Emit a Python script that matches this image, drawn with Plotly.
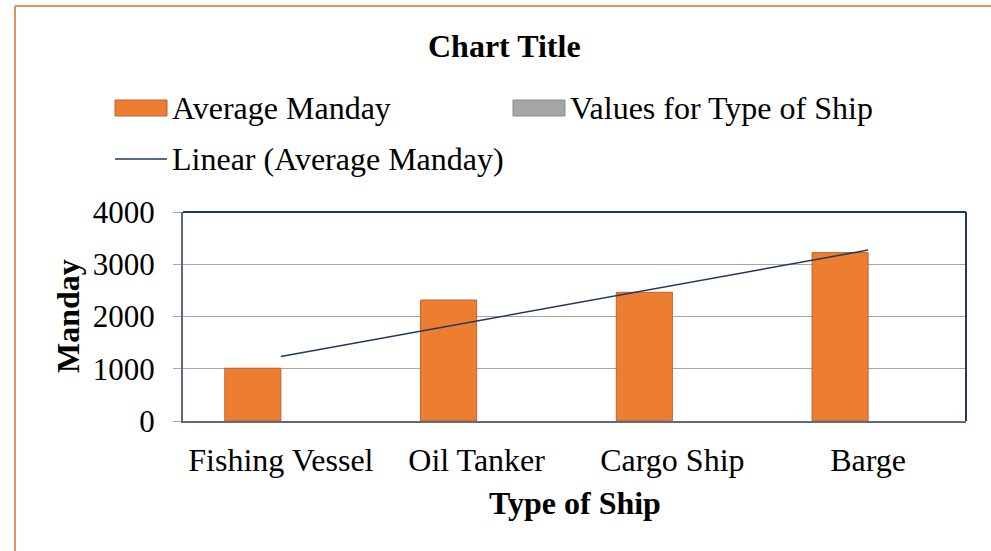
import numpy as np
import plotly.graph_objects as go

# Data
ship_types = ["Fishing Vessel", "Oil Tanker", "Cargo Ship", "Barge"]
average_manday = [1010, 2316, 2463, 3223]
values_for_type = [0, 0, 0, 0]
y_ticks = [0, 1000, 2000, 3000, 4000]

# Linear trend of the average manday (fit over category index 1..n)
idx = np.arange(1, len(ship_types) + 1)
slope, intercept = np.polyfit(idx, average_manday, 1)
trend = (slope * idx + intercept).tolist()

FONT = "Times New Roman, Liberation Serif, serif"
W, H = 991, 551
L, R, T, B = 183, 25, 212, 130
PW, PH = W - L - R, H - T - B


def px(x):
    return (x - L) / PW


def py(y):
    return (H - B - y) / PH


fig = go.Figure()
fig.add_trace(go.Bar(
    x=ship_types, y=average_manday, name="Average Manday",
    marker=dict(color="#ED7D31", line=dict(color="#C0652A", width=1)),
    showlegend=False,
))
fig.add_trace(go.Bar(
    x=ship_types, y=values_for_type, name="Values for Type of Ship",
    marker=dict(color="#A5A5A5", line=dict(color="#8C8C8C", width=0)),
    showlegend=False,
))
fig.add_trace(go.Scatter(
    x=ship_types, y=trend, mode="lines", name="Linear (Average Manday)",
    line=dict(color="#203864", width=1.5), showlegend=False,
))

shapes = [
    # plot frame (top and right)
    dict(type="line", xref="paper", yref="paper", x0=0, x1=1, y0=1, y1=1,
         line=dict(color="#1F3864", width=2)),
    dict(type="line", xref="paper", yref="paper", x0=1, x1=1, y0=0, y1=1,
         line=dict(color="#1F3864", width=2)),
    # outer chart border
    dict(type="line", xref="paper", yref="paper", x0=px(15), x1=px(W + 5),
         y0=py(6), y1=py(6), line=dict(color="#E0955F", width=2)),
    dict(type="line", xref="paper", yref="paper", x0=px(15), x1=px(15),
         y0=py(6), y1=py(H + 5), line=dict(color="#E0955F", width=2)),
    # legend swatches
    dict(type="rect", xref="paper", yref="paper", x0=px(115), x1=px(167),
         y0=py(116), y1=py(100), fillcolor="#ED7D31",
         line=dict(color="#C0652A", width=1)),
    dict(type="rect", xref="paper", yref="paper", x0=px(513), x1=px(565),
         y0=py(116), y1=py(100), fillcolor="#A5A5A5",
         line=dict(color="#8C8C8C", width=1)),
    dict(type="line", xref="paper", yref="paper", x0=px(115), x1=px(167),
         y0=py(159), y1=py(159), line=dict(color="#203864", width=1.5)),
]

annotations = [
    dict(text="<b>Chart Title</b>", x=px(504), y=py(46), xref="paper", yref="paper",
         showarrow=False, xanchor="center", yanchor="middle",
         font=dict(family=FONT, size=32, color="#000000")),
    dict(text="Average Manday", x=px(170), y=py(108), xref="paper", yref="paper",
         showarrow=False, xanchor="left", yanchor="middle",
         font=dict(family=FONT, size=32, color="#000000")),
    dict(text="Values for Type of Ship", x=px(568), y=py(108), xref="paper", yref="paper",
         showarrow=False, xanchor="left", yanchor="middle",
         font=dict(family=FONT, size=32, color="#000000")),
    dict(text="Linear (Average Manday)", x=px(170), y=py(159), xref="paper", yref="paper",
         showarrow=False, xanchor="left", yanchor="middle",
         font=dict(family=FONT, size=32, color="#000000")),
    dict(text="<b>Type of Ship</b>", x=px(575), y=py(503), xref="paper", yref="paper",
         showarrow=False, xanchor="center", yanchor="middle",
         font=dict(family=FONT, size=32, color="#000000")),
    dict(text="<b>Manday</b>", x=px(68), y=py(316), xref="paper", yref="paper",
         showarrow=False, xanchor="center", yanchor="middle", textangle=-90,
         font=dict(family=FONT, size=32, color="#000000")),
]

fig.update_layout(
    width=W, height=H,
    margin=dict(l=L, r=R, t=T, b=B, pad=0),
    paper_bgcolor="#FFFFFF", plot_bgcolor="#FFFFFF",
    barmode="group", bargap=0.427, bargroupgap=0,
    shapes=shapes, annotations=annotations,
    font=dict(family=FONT, size=32, color="#000000"),
)
fig.update_xaxes(
    type="category", showgrid=False, showline=True, linecolor="#5E6A85", linewidth=2,
    ticks="", ticklabelstandoff=10,
    tickfont=dict(family=FONT, size=32, color="#000000"),
)
fig.update_yaxes(
    range=[0, 4000], tickvals=y_ticks, ticktext=[str(v) for v in y_ticks],
    showgrid=True, gridcolor="#A6A6A6", gridwidth=1,
    showline=True, linecolor="#5E6A85", linewidth=2,
    ticks="outside", ticklen=8, tickcolor="#A6A6A6", ticklabelstandoff=12,
    zeroline=False,
    tickfont=dict(family=FONT, size=31, color="#000000"),
)

fig.write_html("out.html")
